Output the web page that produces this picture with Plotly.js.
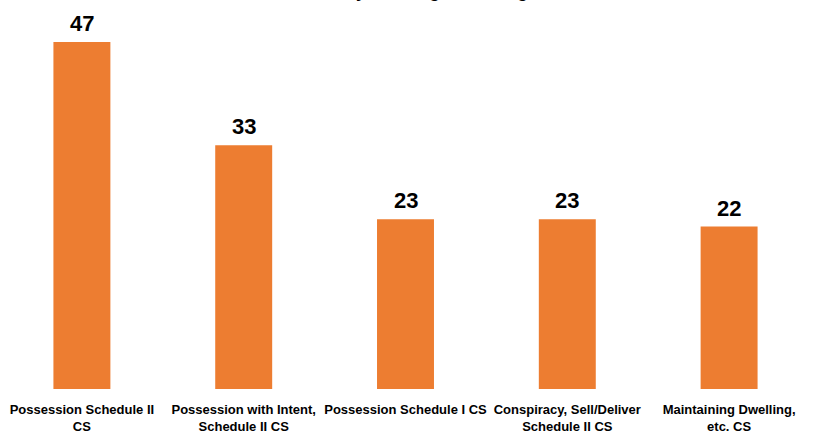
<!DOCTYPE html>
<html>
<head>
<meta charset="utf-8">
<script src="https://cdn.plot.ly/plotly-3.0.1.min.js"></script>
<style>html,body{margin:0;padding:0;background:#fff;}#chart{width:818px;height:433px;}</style>
</head>
<body>
<div id="chart"></div>
<script>
const categories = [
  "Possession Schedule II<br>CS",
  "Possession with Intent,<br>Schedule II CS",
  "Possession Schedule I CS",
  "Conspiracy, Sell/Deliver<br>Schedule II CS",
  "Maintaining Dwelling,<br>etc. CS"
];
const values = [47, 33, 23, 23, 22];
const titleText = "Most Common Offenses by Leading NC Charge";

const barColor = "#ED7D31";
const fontFam = "'Liberation Sans', Arial, sans-serif";

const annotations = values.map((v, i) => ({
  x: i, y: v, xref: 'x', yref: 'y',
  text: '<b>' + v + '</b>', showarrow: false,
  yanchor: 'bottom', yshift: 4,
  font: {family: fontFam, size: 22, color: '#000'}
}));
annotations.push({
  x: 0.5, y: 1, xref: 'paper', yref: 'paper',
  text: '<b>' + titleText + '</b>', showarrow: false,
  xanchor: 'center', yanchor: 'bottom', yshift: -3.5, xshift: -70,
  font: {family: fontFam, size: 18, color: '#000'}
});

const trace = {
  type: 'bar',
  x: categories.map((c, i) => i),
  y: values,
  marker: {color: barColor},
  hoverinfo: 'none'
};

const layout = {
  width: 818, height: 433,
  margin: {l: 1, r: 8, t: 0, b: 44, pad: 0},
  paper_bgcolor: '#fff', plot_bgcolor: '#fff',
  bargap: 0.648,
  showlegend: false,
  xaxis: {
    tickmode: 'array',
    tickvals: categories.map((c, i) => i),
    ticktext: categories.map(c => '<b>' + c.replace('<br>', '</b><br><b>') + '</b>'),
    range: [-0.5, 4.5],
    showline: false, zeroline: false, showgrid: false,
    ticks: 'outside', ticklen: 8, tickcolor: 'rgba(0,0,0,0)',
    tickfont: {family: fontFam, size: 13, color: '#000'}
  },
  yaxis: {
    range: [0, 52.69],
    visible: false, showgrid: false, zeroline: false
  },
  annotations: annotations
};

Plotly.newPlot('chart', [trace], layout, {displayModeBar: false, staticPlot: true});
</script>
</body>
</html>
